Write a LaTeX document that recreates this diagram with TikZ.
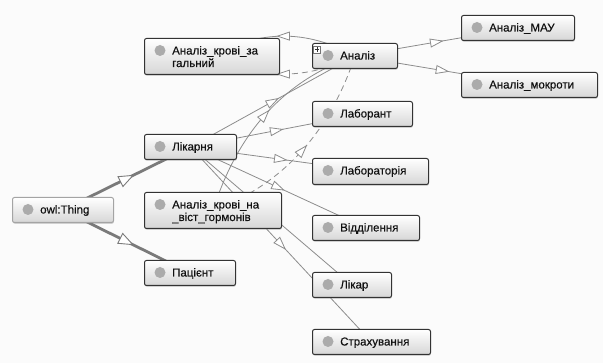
\documentclass[tikz,border=0pt]{standalone}
\usepackage{fontspec}
\setmainfont{Liberation Sans}
\newfontfamily\ogfont{Liberation Sans}[BoldFont=Liberation Sans, BoldFeatures={FakeBold=0.35}]
\usetikzlibrary{calc,shadows,decorations.markings}
\pgfdeclarelayer{back}
\pgfdeclarelayer{edges}
\pgfsetlayers{back,edges,main}
\definecolor{edgegray}{HTML}{8C8C8C}
\definecolor{thickgray}{HTML}{7A7A7A}
\definecolor{circgray}{HTML}{ABABAB}
\definecolor{bordark}{HTML}{333333}
\definecolor{borlight}{HTML}{A4A4A4}
\definecolor{txtc}{HTML}{111111}
\definecolor{bgc}{HTML}{FBFBFB}
\tikzset{
  ogbox/.style={draw=bordark, line width=1pt, rounded corners=2pt, top color=white, bottom color=black!16,
    anchor=north west, inner sep=0pt, drop shadow={shadow xshift=0.4pt, shadow yshift=-1.3pt, opacity=0.35}},
  oglight/.style={draw=borlight},
  ogtext/.style={anchor=base west, inner sep=0pt, text=txtc, font=\ogfont\bfseries\fontsize{11.5}{12.5}\selectfont},
  ogdot/.style={circle, fill=circgray, minimum size=11pt, inner sep=0pt},
  edge/.style={draw=edgegray, line width=0.8pt},
  thickedge/.style={draw=thickgray, line width=2.8pt},
  dashedge/.style={draw=edgegray, line width=0.8pt, dash pattern=on 6pt off 4pt},
  midtri/.style={postaction={decorate}, decoration={markings, mark=at position 0.5 with
    {\filldraw[solid, fill=white, draw=edgegray, line width=0.8pt] (-6pt,-4pt) -- (6pt,0pt) -- (-6pt,4pt) -- cycle;}}},
  bigtri/.style={postaction={decorate}, decoration={markings, mark=at position 0.5 with
    {\filldraw[solid, fill=white, draw=thickgray, line width=0.9pt] (-7pt,-5.5pt) -- (7pt,0pt) -- (-7pt,5.5pt) -- cycle;}}},
}
\newcommand\ogclass[7][]{%
  \node[ogbox,#1, minimum width={#5-#3}, minimum height={#6-#4}] (#2) at (#3,#4) {};
  \node[ogdot] (#2-dot) at (#3+16,#4+12.5) {};
  \node[ogtext] (#2-txt) at (#3+28,#4+16.5) {#7};
}
\begin{document}
\begin{tikzpicture}[x=1pt,y=-1pt]
\useasboundingbox (0,0) rectangle (603,363);
\begin{pgfonlayer}{back}
\fill[bgc] (0,0) rectangle (603,363);
\end{pgfonlayer}

% classes
\ogclass[oglight]{thing}{12}{197}{113}{222}{owl:Thing}
\ogclass{lik}{144}{134}{236}{159}{Лікарня}
\ogclass{zag}{144}{38}{279}{74}{\vtop{\hbox{Аналіз\_крові\_за}\hbox{гальний}}}
\ogclass{gorm}{144}{192}{281}{228}{\vtop{\hbox{Аналіз\_крові\_на}\hbox{\_віст\_гормонів}}}
\ogclass{pats}{144}{260}{235}{285}{Пацієнт}
\ogclass{an}{312}{43}{397}{68}{Аналіз}
\ogclass{mau}{461}{15}{574}{40}{Аналіз\_МАУ}
\ogclass{mokr}{461}{72}{597}{97}{Аналіз\_мокроти}
\ogclass{labt}{312}{101}{412}{126}{Лаборант}
\ogclass{labr}{312}{158}{428}{184}{Лабораторія}
\ogclass{vid}{312}{215}{419}{240}{Відділення}
\ogclass{likar}{312}{272}{391}{297}{Лікар}
\ogclass{strakh}{312}{329}{430}{354}{Страхування}

% expand icon on Аналіз
\draw[black!55, fill=white, line width=0.5pt] (313.5,46) rectangle (320.5,53);
\draw[black!80, line width=0.8pt] (317,47.3) -- (317,51.7) (314.8,49.5) -- (319.2,49.5);

% control points for curved pairs
\coordinate (cza) at (283,16);
\coordinate (czb) at (283,92);
\coordinate (cga) at (250.5,91.5);
\coordinate (cgb) at (316.5,172);

\begin{pgfonlayer}{edges}
\draw[thickedge, bigtri] (thing.center) -- (lik.center);
\draw[thickedge, bigtri] (thing.center) -- (pats.center);
\draw[edge, midtri] (an.center) -- (mau.center);
\draw[edge, midtri] (an.center) -- (mokr.center);
\draw[edge, midtri] (an.center) .. controls ($(an.center)!0.6667!(cza)$) and ($(zag.center)!0.6667!(cza)$) .. (zag.center);
\draw[dashedge, midtri] (an.center) .. controls ($(an.center)!0.6667!(czb)$) and ($(zag.center)!0.6667!(czb)$) .. (zag.center);
\draw[edge, midtri] (gorm.center) .. controls ($(gorm.center)!0.6667!(cga)$) and ($(an.center)!0.6667!(cga)$) .. (an.center);
\draw[dashedge, midtri] (gorm.center) .. controls ($(gorm.center)!0.6667!(cgb)$) and ($(an.center)!0.6667!(cgb)$) .. (an.center);
\draw[edge, midtri] (lik.center) -- (an.center);
\draw[edge, midtri] (lik.center) -- (labt.center);
\draw[edge, midtri] (lik.center) -- (labr.center);
\draw[edge, midtri] (lik.center) -- (vid.center);
\draw[edge, midtri] (lik.center) -- (likar.center);
\draw[edge, midtri] (lik.center) -- (strakh.center);
\end{pgfonlayer}
\end{tikzpicture}
\end{document}
